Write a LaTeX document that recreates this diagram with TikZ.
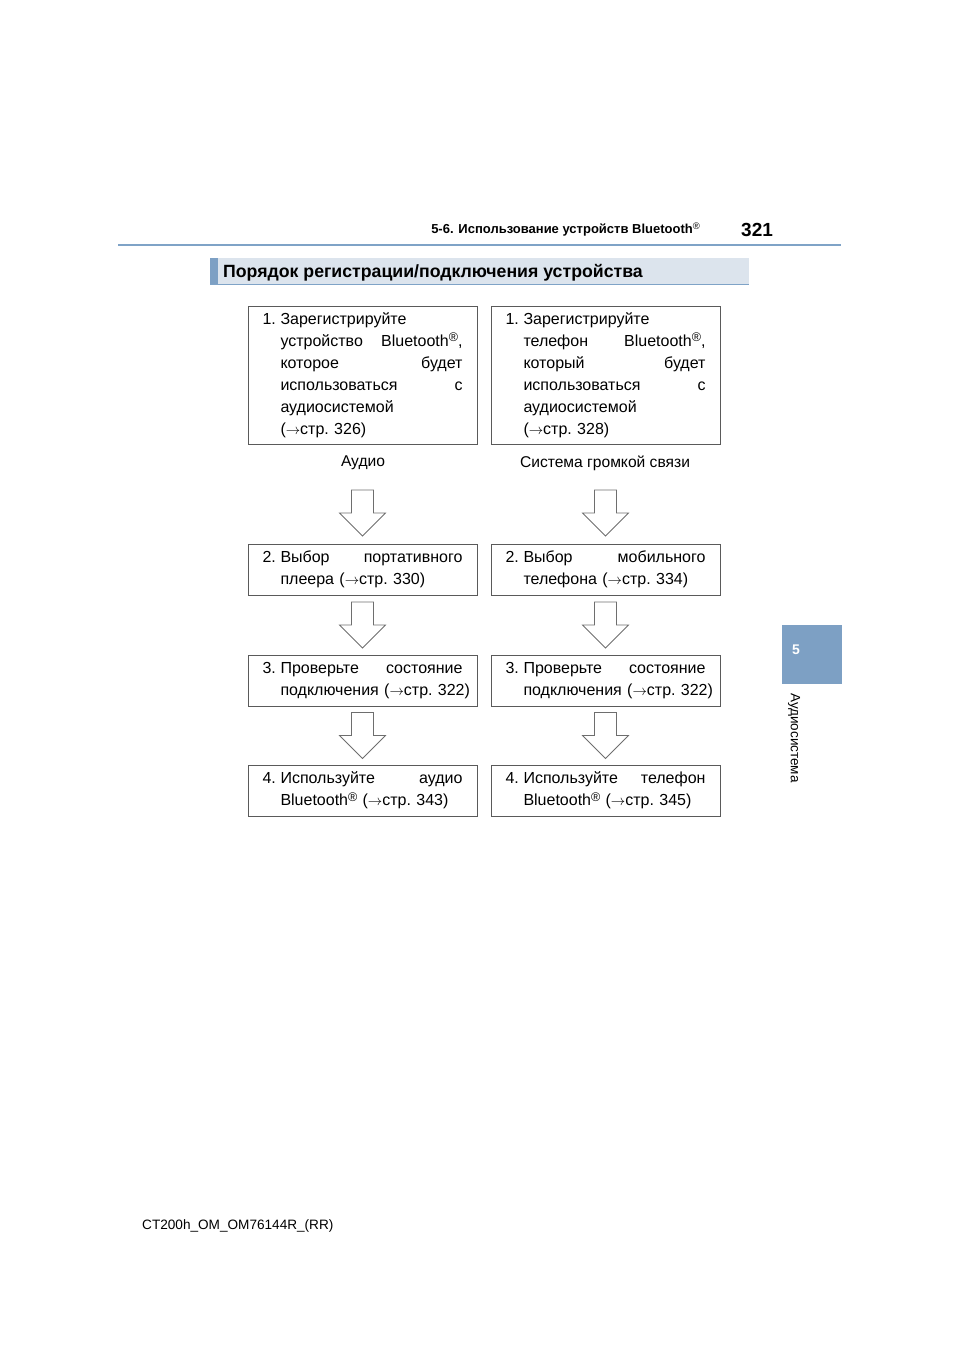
\documentclass[tikz,border=0pt]{standalone}
\usepackage{fontspec}
\setmainfont{Liberation Sans}
\usetikzlibrary{calc}
\definecolor{headblue}{RGB}{127,163,199}
\definecolor{barfill}{RGB}{220,228,237}
\definecolor{tabblue}{RGB}{125,160,196}
\definecolor{boxgray}{RGB}{90,90,90}
\definecolor{arrowgray}{RGB}{110,110,110}
\newcommand{\seepage}[1]{({\fontsize{14}{14}\selectfont$\rightarrow$}стр.~#1)}
\newcommand{\regmark}{\raisebox{4.5pt}{\fontsize{12.5}{12.5}\selectfont®}}
% numbered first line, ragged or spread
\newcommand{\stepno}[1]{\makebox[18pt][l]{#1.}}
\newcommand{\spreadfirst}[3]{\makebox[200pt][l]{\stepno{#1}#2\hfill#3}}
% indented following lines, spread or ragged
\newcommand{\spreadline}[2]{\hspace*{18pt}\makebox[182pt][l]{#1\hfill#2}}
\newcommand{\plainline}[1]{\hspace*{18pt}\makebox[182pt][l]{#1}}
\tikzset{
  stepbox/.style={draw=boxgray, line width=0.8pt, minimum width=229pt,
    text width=200pt, align=left, inner xsep=14.5pt, inner ysep=0pt,
    font=\fontsize{16}{22}\selectfont},
  flowlabel/.style={inner sep=0, font=\fontsize{15.6}{16}\selectfont},
  downarrow/.pic={\draw[arrowgray, line width=0.8pt, line join=miter]
    (-11,-23) -- (-11,0) -- (-23,0) -- (0,23) -- (23,0) -- (11,0) -- (11,-23) -- cycle;}
}
\begin{document}
\begin{tikzpicture}[x=1pt,y=-1pt]
  \useasboundingbox (0,0) rectangle (960,1358);
  % page head
  \draw[headblue, line width=2pt] (118,245) -- (841,245);
  \node[anchor=base east, inner sep=0, font=\fontsize{13}{13}\selectfont\bfseries] (sect) at (700,233)
    {5-6. Использование устройств Bluetooth\raisebox{4pt}{\fontsize{9.5}{9.5}\selectfont\mdseries®}};
  \node[anchor=base west, inner sep=0, font=\fontsize{19}{19}\selectfont\bfseries] (page) at (741,236) {321};
  % title bar
  \fill[barfill] (210,258) rectangle (749,285);
  \fill[tabblue] (210,258) rectangle (218,285);
  \draw[headblue, line width=1.5pt] (210,284.5) -- (749,284.5);
  \node[anchor=base west, inner sep=0, font=\fontsize{17.7}{17.7}\selectfont\bfseries] (title) at (223,277)
    {Порядок регистрации/подключения устройства};
  % audio column
  \node[stepbox, minimum height=138pt] (a1) at (362.5,375) {\stepno{1}Зарегистрируйте\\
    \spreadline{устройство}{Bluetooth\regmark,}\\ \spreadline{которое}{будет}\\
    \spreadline{использоваться}{с}\\ \plainline{аудиосистемой}\\ \plainline{\seepage{326}}};
  \node[flowlabel] (lblA) at (363,463) {Аудио};
  \node[stepbox, minimum height=51pt] (a2) at (362.5,569.5) {\spreadfirst{2}{Выбор}{портативного}\\
    \plainline{плеера \seepage{330}}};
  \node[stepbox, minimum height=51pt] (a3) at (362.5,680.5) {\spreadfirst{3}{Проверьте}{состояние}\\
    \plainline{подключения \seepage{322}}};
  \node[stepbox, minimum height=51pt] (a4) at (362.5,790.5) {\spreadfirst{4}{Используйте}{аудио}\\
    \plainline{Bluetooth\regmark{} \seepage{343}}};
  \pic at ($(a1.south)!0.5!(a2.north)+(0,19)$) {downarrow};
  \pic at ($(a2.south)!0.5!(a3.north)$) {downarrow};
  \pic at ($(a3.south)!0.5!(a4.north)$) {downarrow};
  % hands-free column
  \node[stepbox, minimum height=138pt] (h1) at (605.5,375) {\stepno{1}Зарегистрируйте\\
    \spreadline{телефон}{Bluetooth\regmark,}\\ \spreadline{который}{будет}\\
    \spreadline{использоваться}{с}\\ \plainline{аудиосистемой}\\ \plainline{\seepage{328}}};
  \node[flowlabel] (lblH) at (605,463) {Система громкой связи};
  \node[stepbox, minimum height=51pt] (h2) at (605.5,569.5) {\spreadfirst{2}{Выбор}{мобильного}\\
    \plainline{телефона \seepage{334}}};
  \node[stepbox, minimum height=51pt] (h3) at (605.5,680.5) {\spreadfirst{3}{Проверьте}{состояние}\\
    \plainline{подключения \seepage{322}}};
  \node[stepbox, minimum height=51pt] (h4) at (605.5,790.5) {\spreadfirst{4}{Используйте}{телефон}\\
    \plainline{Bluetooth\regmark{} \seepage{345}}};
  \pic at ($(h1.south)!0.5!(h2.north)+(0,19)$) {downarrow};
  \pic at ($(h2.south)!0.5!(h3.north)$) {downarrow};
  \pic at ($(h3.south)!0.5!(h4.north)$) {downarrow};
  % side tab
  \fill[tabblue] (782,625) rectangle (842,684);
  \node[inner sep=0, text=white, font=\fontsize{14}{14}\selectfont\bfseries] (tabno) at (796,650) {5};
  \node[rotate=-90, anchor=west, inner sep=0, font=\fontsize{13.5}{13.5}\selectfont] (tabtxt) at (794,693) {Аудиосистема};
  % footer
  \node[anchor=base west, inner sep=0, font=\fontsize{13.6}{13.6}\selectfont] (foot) at (142,1229) {CT200h\_OM\_OM76144R\_(RR)};
\end{tikzpicture}
\end{document}
